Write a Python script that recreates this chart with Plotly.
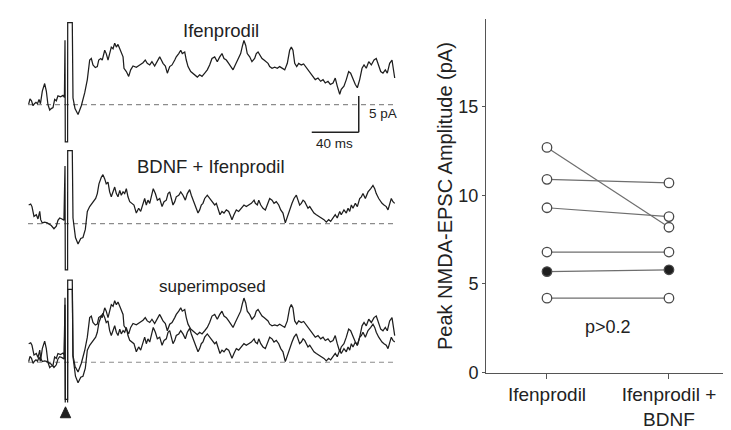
import plotly.graph_objects as go

W, H = 731, 430

# ---------------- data: example traces (time from stimulus in ms, current in pA) -------------
ifen_t = [-30.9, -29.8, -28.5, -27.2, -26.0, -24.7, -23.4, -22.1, -20.9, -19.3, -17.3, -15.9, -14.5, -13.0, -11.7, -10.2, -8.8, -7.4, -6.0, -3.8, -1.7, -0.5,
          0.0, 0.25, 2.2, 2.3, 6.2, 6.8,
          8.5, 11.1, 13.9, 16.8, 19.0, 21.0, 22.4, 23.8, 25.8, 27.5, 28.7, 30.4, 31.7, 33.8, 35.1, 36.6, 38.0, 39.4, 40.9, 42.3, 43.7, 45.1,
          46.6, 47.9, 49.4, 50.2, 52.2, 54.2, 55.9, 57.9, 60.7, 63.6, 66.4, 68.3, 70.0, 72.1, 74.0, 76.3, 78.6, 80.6, 82.0, 83.4,
          85.4, 87.1, 89.1, 91.1, 93.4, 94.7, 96.8, 98.5, 99.8, 101.9, 103.2, 104.7, 107.0, 108.9, 110.9, 112.6, 114.6, 116.6, 118.9, 121.1,
          123.1, 125.1, 127.4, 129.6, 131.7, 133.6, 135.3, 137.3, 139.3, 141.0, 143.0, 144.9, 147.2, 149.5, 150.9, 152.3, 153.8, 155.1, 157.2, 159.1,
          161.4, 162.8, 164.3, 166.2, 167.7, 169.4, 171.3, 172.8, 174.2, 176.2, 178.5, 180.7, 182.7, 184.7, 187.0, 189.2, 191.2, 192.6, 194.0, 195.5,
          197.2, 198.9, 201.1, 203.1, 204.9, 206.8, 209.1, 211.1, 213.0, 215.3, 217.6, 219.6, 221.5, 223.8, 225.8, 228.1, 230.0, 231.7, 233.8, 235.1,
          237.4, 239.4, 241.4, 243.1, 245.1, 247.1, 248.8, 250.8, 252.8, 254.5, 256.4, 258.5, 260.7, 263.0, 264.9, 266.4, 268.7, 270.6, 272.6, 274.3,
          276.3, 278.3, 279.4, 280.6]
ifen_i = [0.09, 0.81, 0.54, -0.14, 0.14, 0.34, 0.14, 0.74, 0.14, 1.89, 2.93, 1.89, 0.0, -0.74, -0.54, -0.41, 0.74, 0.54, 1.22, 1.08, 1.28, 1.01,
          8.92, -5.14, -5.14, 11.35, 11.35, 0.95,
          -0.54, -1.35, -0.14, 1.66, 3.47, 6.18, 6.39, 5.50, 5.14, 5.27, 6.18, 6.39, 6.18, 7.53, 7.07, 6.18, 7.07, 7.97, 7.74, 8.51, 7.97, 8.34,
          7.74, 7.07, 6.62, 5.04, 4.59, 3.92, 4.82, 5.36, 5.18, 5.50, 5.81, 6.18, 5.72, 5.50, 5.95, 5.36, 5.95, 6.62, 6.18, 5.72,
          5.36, 4.36, 5.27, 5.50, 6.18, 6.62, 7.07, 7.53, 7.07, 7.30, 6.18, 5.27, 4.59, 4.36, 4.15, 3.82, 4.15, 3.92, 4.36, 4.82,
          5.50, 6.39, 6.62, 5.95, 6.62, 7.07, 6.39, 6.18, 5.72, 5.27, 4.82, 5.50, 6.18, 7.07, 8.07, 8.88, 8.20, 7.07, 6.62, 5.95,
          6.39, 7.07, 7.30, 6.85, 6.39, 6.18, 5.95, 5.72, 5.27, 5.04, 5.18, 5.04, 5.27, 5.04, 4.82, 5.72, 7.53, 7.97, 7.53, 5.72,
          5.27, 5.72, 5.50, 5.64, 5.27, 4.82, 4.36, 3.92, 3.47, 3.69, 3.24, 3.47, 3.01, 3.24, 2.80, 3.01, 3.69, 2.57, 1.45, 2.12,
          2.57, 3.47, 4.59, 4.36, 3.47, 2.80, 2.34, 3.47, 5.04, 5.50, 5.04, 5.95, 5.50, 6.18, 6.39, 5.72, 4.59, 4.36, 4.82, 4.36,
          5.72, 6.18, 4.82, 3.69]

bdnf_t = [-30.9, -29.2, -28.1, -26.4, -24.4, -23.0, -21.5, -20.7, -19.3, -17.3, -15.1, -13.0, -11.7, -9.4, -7.4, -6.0, -4.5, -2.6, -0.9,
          0.0, 0.25, 2.2, 2.3, 6.2, 6.8,
          8.9, 11.1, 13.4, 15.3, 17.3, 19.0, 21.0, 23.0, 24.7, 26.1, 27.5, 28.9, 30.9, 32.3, 33.8, 35.1, 36.6, 38.0, 39.4, 40.9,
          42.3, 43.7, 45.1, 46.6, 47.9, 49.4, 50.8, 52.2, 53.6, 55.1, 57.0, 58.7, 60.7, 62.7, 64.4, 66.4, 67.8, 69.2, 70.6, 72.1,
          73.4, 75.1, 76.9, 78.6, 80.6, 82.6, 84.3, 86.2, 87.7, 89.1, 90.5, 91.9, 93.4, 94.7, 96.8, 98.5, 100.4, 102.4, 104.1, 106.1,
          107.5, 108.9, 110.4, 111.7, 113.2, 114.6, 116.0, 117.4, 118.9, 121.1, 123.1, 125.1, 127.4, 128.8, 130.2, 131.9, 133.6, 135.3, 137.3, 139.3,
          141.0, 142.1, 143.8, 145.8, 147.8, 150.0, 152.3, 154.3, 156.3, 158.6, 160.9, 162.0, 163.7, 164.9, 166.6, 168.5, 170.5, 172.2, 174.2, 176.2,
          177.9, 179.8, 181.9, 183.6, 185.5, 187.5, 189.2, 191.2, 193.2, 194.9, 196.9, 198.3, 199.7, 201.1, 202.6, 204.0, 205.4, 206.8, 208.3, 210.2,
          211.9, 213.9, 215.9, 218.1, 220.4, 222.4, 224.4, 226.1, 228.1, 230.0, 231.7, 233.8, 235.1, 237.4, 239.4, 240.9, 242.3, 243.7, 245.1, 247.1,
          248.8, 250.8, 252.2, 253.6, 255.6, 257.9, 260.2, 262.1, 263.6, 264.9, 267.0, 268.7, 269.8, 271.5, 273.4, 274.9, 276.3, 277.7, 279.1, 280.6]
bdnf_i = [2.57, 2.70, 2.35, 1.00, 1.22, 0.64, 1.68, 0.54, 0.09, 0.19, 0.09, -0.14, -0.27, -0.72, -0.35, 0.46, 0.77, 0.64, 0.46,
          7.97, -6.39, -6.39, 10.09, 10.09, 0.77,
          -1.93, -2.84, -2.07, -1.93, -0.81, 1.68, 2.35, 2.80, 3.24, 3.47, 4.15, 5.50, 6.41, 6.76, 6.18, 5.50, 5.73, 4.38, 3.70, 4.59,
          5.05, 4.15, 3.70, 4.59, 3.92, 4.38, 4.15, 4.82, 3.70, 3.03, 2.80, 2.57, 1.45, 2.12, 1.68, 2.57, 3.47, 2.57, 3.24, 2.80,
          3.92, 4.82, 4.15, 3.24, 3.47, 2.35, 3.03, 3.24, 4.15, 4.38, 3.47, 2.57, 3.03, 3.70, 3.92, 4.38, 3.92, 3.24, 4.15, 4.69,
          3.92, 3.24, 2.57, 1.89, 1.45, 1.89, 2.57, 2.80, 3.47, 3.92, 3.47, 3.03, 2.57, 2.80, 1.89, 1.22, 1.68, 1.45, 1.89, 1.68,
          1.00, 0.54, 1.22, 1.89, 1.68, 2.12, 2.57, 2.35, 2.57, 2.80, 3.24, 2.80, 2.57, 3.24, 2.57, 2.12, 1.89, 2.57, 3.47, 3.24,
          2.80, 3.03, 2.57, 1.89, 1.45, 0.09, 1.00, 1.89, 2.80, 3.47, 3.92, 3.24, 2.57, 2.80, 3.24, 3.03, 2.57, 2.12, 2.35, 1.89,
          1.45, 1.22, 1.00, 0.77, 0.54, 0.19, 0.54, 0.32, 0.77, 1.22, 0.77, 1.68, 1.22, 1.89, 1.45, 2.12, 1.68, 2.57, 2.12, 2.80,
          2.35, 3.47, 3.70, 4.15, 3.47, 4.38, 4.82, 5.27, 4.82, 4.15, 3.47, 3.03, 2.80, 2.57, 2.35, 1.89, 2.57, 3.47, 3.03, 2.80]

assert len(ifen_t) == len(ifen_i), (len(ifen_t), len(ifen_i))
assert len(bdnf_t) == len(bdnf_i), (len(bdnf_t), len(bdnf_i))

panel_titles = ["Ifenprodil", "BDNF + Ifenprodil", "superimposed"]
scale_ms = 40
scale_pA = 5

# ---------------- data: paired peak amplitudes ----------------
conditions = ["Ifenprodil", "Ifenprodil +<br>BDNF"]
amp_ifen = [12.7, 10.9, 9.3, 6.8, 5.7, 4.2]
amp_bdnf = [8.2, 10.7, 8.8, 6.8, 5.8, 4.2]
filled = [False, False, False, False, True, False]
y_ticks = [0, 5, 10, 15]
y_title = "Peak NMDA-EPSC Amplitude (pA)"
p_text = "p>0.2"

# ---------------- layout helpers ----------------
FONT = "Liberation Sans, Arial, Helvetica, sans-serif"
TXT = "#222222"
PX_PER_MS = 1.175
PX_PER_PA = 7.4
STIM_X = 57.0
LEFT_W = 400.0


def px(x):
    return x / W


def py(y):
    return 1 - y / H


fig = go.Figure()
layout = dict(
    width=W, height=H, margin=dict(l=0, r=0, t=0, b=0),
    paper_bgcolor="white", plot_bgcolor="rgba(0,0,0,0)",
    showlegend=False, font=dict(family=FONT, color=TXT),
)

# panel (top px, bottom px, baseline px)
panels = [(0, 145, 99.0), (140, 275, 220.7), (270, 404, 362.7)]
xr = [(0 - STIM_X) / PX_PER_MS, (LEFT_W - STIM_X) / PX_PER_MS]
shapes = []
annotations = []
panel_traces = [[(ifen_t, ifen_i)], [(bdnf_t, bdnf_i)], [(bdnf_t, bdnf_i), (ifen_t, ifen_i)]]
title_pos = [(213, 23), (203, 162), (204, 285)]
title_size = [18.5, 18.5, 17]

for k, (top, bot, base) in enumerate(panels, start=1):
    sfx = "" if k == 1 else str(k)
    layout["xaxis" + sfx] = dict(domain=[0, px(LEFT_W)], range=xr, visible=False, anchor="y" + sfx)
    layout["yaxis" + sfx] = dict(domain=[py(bot), py(top)],
                                 range=[-(bot - base) / PX_PER_PA, (base - top) / PX_PER_PA],
                                 visible=False, anchor="x" + sfx)
    shapes.append(dict(type="line", xref="x" + sfx, yref="y" + sfx, x0=-31.5, x1=281.7, y0=0, y1=0,
                       line=dict(color="#8c8c8c", width=1.2, dash="5px,4px"), layer="below"))
    for tt, ii in panel_traces[k - 1]:
        fig.add_trace(go.Scatter(x=tt, y=ii, mode="lines", xaxis="x" + sfx, yaxis="y" + sfx,
                                 line=dict(color="#1e1e1e", width=1.25), hoverinfo="skip"))
    annotations.append(dict(xref="paper", yref="paper", x=px(title_pos[k - 1][0]), y=py(title_pos[k - 1][1]),
                            text=panel_titles[k - 1], showarrow=False, xanchor="center", yanchor="middle",
                            font=dict(size=title_size[k - 1], color=TXT)))

# scale bar (panel 1 coordinates)
sb_t0, sb_i0 = 210.0, -3.8
shapes.append(dict(type="line", xref="x", yref="y", x0=sb_t0, x1=sb_t0 + scale_ms, y0=sb_i0, y1=sb_i0,
                   line=dict(color="#222", width=1.5)))
shapes.append(dict(type="line", xref="x", yref="y", x0=sb_t0 + scale_ms, x1=sb_t0 + scale_ms,
                   y0=sb_i0, y1=sb_i0 + scale_pA, line=dict(color="#222", width=1.5)))
annotations.append(dict(xref="x", yref="y", x=sb_t0 + scale_ms + 7, y=sb_i0 + 2.6, text=f"{scale_pA} pA",
                        showarrow=False, xanchor="left", yanchor="middle", font=dict(size=13.5, color=TXT)))
annotations.append(dict(xref="x", yref="y", x=sb_t0 + scale_ms / 2 - 1, y=sb_i0 - 1.5, text=f"{scale_ms} ms",
                        showarrow=False, xanchor="center", yanchor="middle", font=dict(size=13.5, color=TXT)))

# stimulus triangle
tri = [(52.3, 419.5), (62.7, 419.5), (57.5, 408.3)]
path = "M {} {} L {} {} L {} {} Z".format(px(tri[0][0]), py(tri[0][1]), px(tri[1][0]), py(tri[1][1]),
                                         px(tri[2][0]), py(tri[2][1]))
shapes.append(dict(type="path", xref="paper", yref="paper", path=path, fillcolor="#1e1e1e",
                   line=dict(color="#1e1e1e", width=1)))

# ---------------- right: paired plot ----------------
xi = list(range(len(conditions)))
for a, b in zip(amp_ifen, amp_bdnf):
    fig.add_trace(go.Scatter(x=xi, y=[a, b], mode="lines", xaxis="x4", yaxis="y4",
                             line=dict(color="#6e6e6e", width=1.2), hoverinfo="skip"))
for a, b, f in zip(amp_ifen, amp_bdnf, filled):
    fig.add_trace(go.Scatter(x=xi, y=[a, b], mode="markers", xaxis="x4", yaxis="y4", cliponaxis=False,
                             marker=dict(size=9.5, symbol="circle", color="#1e1e1e" if f else "white",
                                         line=dict(color="#4a4a4a", width=1.3)), hoverinfo="skip"))

layout["xaxis4"] = dict(domain=[px(478), px(720)], range=[-0.5, 1.484], anchor="y4",
                        tickvals=xi, ticktext=conditions, showgrid=False, zeroline=False,
                        showline=True, linecolor="#555", linewidth=1, ticks="outside", ticklen=5,
                        tickcolor="#555", tickfont=dict(size=19, color=TXT))
layout["yaxis4"] = dict(domain=[py(373.3), py(11.7)], range=[0, 19.92], anchor="x4",
                        tickvals=y_ticks, showgrid=False, zeroline=False,
                        showline=True, linecolor="#555", linewidth=1, ticks="outside", ticklen=3,
                        tickcolor="#555", tickfont=dict(size=18, color=TXT))
annotations.append(dict(xref="paper", yref="paper", x=px(437), y=py(192.5), text=y_title, textangle=-90,
                        showarrow=False, xanchor="center", yanchor="middle", font=dict(size=20, color=TXT)))
annotations.append(dict(xref="paper", yref="paper", x=px(600), y=py(327), text=p_text,
                        showarrow=False, xanchor="center", yanchor="middle", font=dict(size=18, color=TXT)))

layout["shapes"] = shapes
layout["annotations"] = annotations
fig.update_layout(**layout)
fig.write_html("out.html")
